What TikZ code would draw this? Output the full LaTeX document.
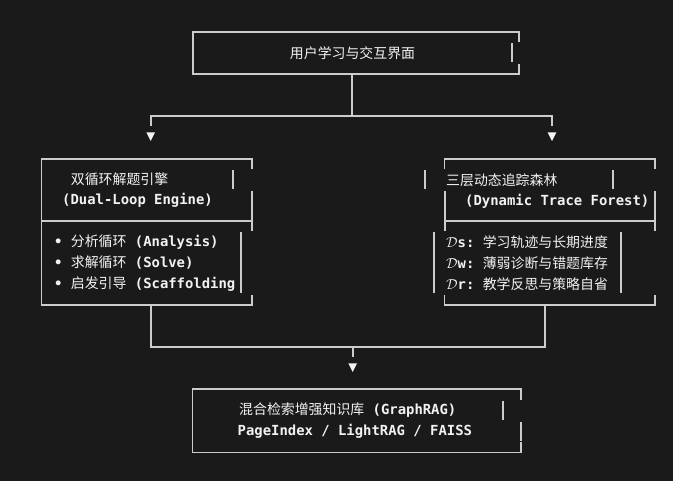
\documentclass[tikz,border=0pt]{standalone}
\usepackage{fontspec}
\setmonofont{DejaVu Sans Mono}
\newfontfamily\cjk{Noto Sans CJK SC}
\newcommand{\hanzi}[1]{{\cjk\mdseries #1}}
\usetikzlibrary{positioning}

\definecolor{bgdark}{HTML}{1A1A1A}
\definecolor{linegray}{HTML}{CCCCCC}
\definecolor{txtwhite}{HTML}{F2F2F2}

\tikzset{
  frame/.style={draw=linegray, line width=1.9pt},
  wire/.style={draw=linegray, line width=1.9pt},
  tip/.style={fill=txtwhite},
  boxarea/.style={draw=none, inner sep=0pt},
  txt/.style={text=txtwhite, inner sep=0pt, anchor=west,
    font=\ttfamily\bfseries\fontsize{13.9}{16}\selectfont},
}

\begin{document}
\begin{tikzpicture}[x=1pt,y=1pt,yscale=-1]
\path[use as bounding box, fill=bgdark] (0,0) rectangle (673,481);

%Box areas
\node[boxarea, minimum width=326pt, minimum height=42pt] (ui) at (356,53) {};
\node[boxarea, minimum width=210pt, minimum height=146pt] (engine) at (146.7,232) {};
\node[boxarea, minimum width=210.3pt, minimum height=145.5pt] (forest) at (549.85,231.75) {};
\node[boxarea, minimum width=328pt, minimum height=63pt] (kb) at (356.7,420.8) {};

%Frame: user interface
\draw[frame] (ui.north east) ++(0,10.5) -- (ui.north east) -- (ui.north west) -- (ui.south west) -- (ui.south east) -- ++(0,-10.5);
\draw[frame] (512,43.5) -- (512,62.5);

%Frame: dual-loop engine
\draw[frame] (engine.north east) ++(0,10.5) -- (engine.north east) -- (engine.north west) -- (engine.south west) -- (engine.south east) -- ++(0,-10);
\draw[frame] (41.7,221) -- (251.7,221);
\draw[frame] (232.7,170.5) -- (232.7,189);
\draw[frame] (251.7,191) -- (251.7,231);
\draw[frame] (240.7,232.5) -- (240.7,293.5);

%Frame: dynamic trace forest
\draw[frame] (forest.north west) ++(0,10.5) -- (forest.north west) -- (forest.north east) -- ++(0,10.5);
\draw[frame] (forest.south west) ++(0,-10) -- (forest.south west) -- (forest.south east) -- ++(0,-10);
\draw[frame] (425,170.5) -- (425,189);
\draw[frame] (613,170.5) -- (613,189);
\draw[frame] (444.7,191) -- (444.7,231);
\draw[frame] (655,191) -- (655,231);
\draw[frame] (444.7,221) -- (655,221);
\draw[frame] (434,232.5) -- (434,293.5);
\draw[frame] (620.7,232.5) -- (620.7,293.5);

%Frame: knowledge base
\draw[frame] (kb.north east) ++(0,10.5) -- (kb.north east) -- (kb.north west) -- (kb.south west) -- (kb.south east) -- ++(0,-10.5);
\draw[frame] (503,401) -- (503,420);
\draw[frame] (520.7,422) -- (520.7,441);

%Connectors: top split
\coordinate (split) at (352.3,116);
\coordinate (splitL) at (150.7,116);
\coordinate (splitR) at (552,116);
\draw[wire] (ui.south -| split) -- (split);
\draw[wire] (splitL) ++(0,10) -- (splitL) -- (splitR) -- ++(0,10);
\fill[tip] (splitL) ++(-4.3,16.5) -- ++(8.6,0) -- ++(-4.3,8.5) -- cycle;
\fill[tip] (splitR) ++(-4.3,16.5) -- ++(8.6,0) -- ++(-4.3,8.5) -- cycle;

%Connectors: bottom merge
\coordinate (mergeL) at (151,347);
\coordinate (mergeR) at (545,347);
\coordinate (merge) at (352.7,347);
\draw[wire] (mergeL |- engine.south) -- (mergeL) -- (mergeR) -- (mergeR |- forest.south);
\draw[wire] (merge) -- ++(0,10);
\fill[tip] (merge) ++(-4.3,16.5) -- ++(8.6,0) -- ++(-4.3,8.5) -- cycle;

% Text Node
\node[txt, anchor=center] (uititle) at (352.5,53) {\hanzi{用户学习与交互界面}};
% Text Node
\node[txt] (engtitle) at (70.7,179.5) {\hanzi{双循环解题引擎}};
\node[txt] (engsub) at (62,200.5) {(Dual-Loop Engine)};
\node[txt] (engana) at (54,242) {• \hanzi{分析循环} (Analysis)};
\node[txt] (engsol) at (54,263) {• \hanzi{求解循环} (Solve)};
\node[txt] (engsca) at (54,284) {• \hanzi{启发引导} (Scaffolding};
% Text Node
\node[txt] (fortitle) at (446,180.5) {\hanzi{三层动态追踪森林}};
\node[txt] (forsub) at (465,201) {(Dynamic Trace Forest)};
\node[txt] (fords) at (446,242) {$\mathcal{D}$s: \hanzi{学习轨迹与长期进度}};
\node[txt] (fordw) at (446,263) {$\mathcal{D}$w: \hanzi{薄弱诊断与错题库存}};
\node[txt] (fordr) at (446,284) {$\mathcal{D}$r: \hanzi{教学反思与策略自省}};
% Text Node
\node[txt] (kbtitle) at (239,410.5) {\hanzi{混合检索增强知识库} (GraphRAG)};
\node[txt] (kbsub) at (237.5,431.3) {PageIndex / LightRAG / FAISS};

\end{tikzpicture}
\end{document}
